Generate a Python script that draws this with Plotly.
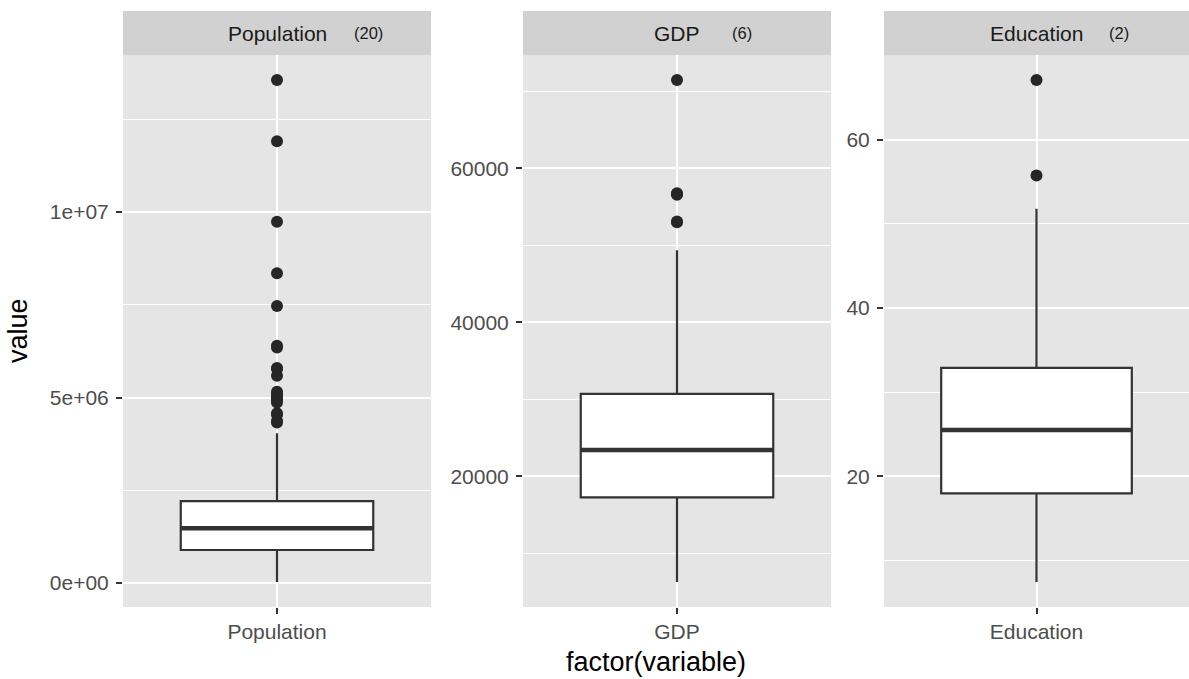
import plotly.graph_objects as go

FIG_W, FIG_H = 1189, 679

# ---- data -------------------------------------------------------------
variables = ["Population", "GDP", "Education"]

# box summaries per variable: whisker ends, quartiles, median
lower_whisker = [0.03e6, 6300, 7.45]
q1_values = [0.89e6, 17270, 17.97]
medians = [1.48e6, 23430, 25.5]
q3_values = [2.21e6, 30720, 32.9]
upper_whisker = [4.04e6, 49370, 51.8]

population_outliers = [13.56e6, 11.91e6, 9.74e6, 8.35e6, 7.47e6, 6.40e6, 6.35e6,
                       5.80e6, 5.77e6, 5.59e6, 5.16e6, 5.10e6, 5.04e6, 4.98e6,
                       4.93e6, 4.87e6, 4.58e6, 4.54e6, 4.37e6, 4.33e6]
gdp_outliers = [71450, 56750, 56650, 56550, 53100, 53000]
education_outliers = [67.1, 55.75]
outliers = [population_outliers, gdp_outliers, education_outliers]

# y tick positions and labels per panel
y_tickvals = [[0, 5e6, 1e7], [20000, 40000, 60000], [20, 40, 60]]
y_ticktext = [["0e+00", "5e+06", "1e+07"], ["20000", "40000", "60000"], ["20", "40", "60"]]
y_minorvals = [[2.5e6, 7.5e6, 12.5e6], [10000, 30000, 50000, 70000], [10, 30, 50, 70]]

# ---- style ------------------------------------------------------------
FONT = "Liberation Sans, Arial, Helvetica, sans-serif"
PANEL_BG = "#E5E5E5"
STRIP_BG = "#D1D1D1"
INK = "#333333"
BOX_WIDTH = 0.75

panel_px = [(123, 431), (523, 831), (884, 1189)]   # left/right edge of each panel
plot_top, plot_bottom = 55, 607
strip_top = 11
count_shift = [91, 65, 82]                          # offset of the "(n)" tag from panel centre


def px_x(v):
    return v / FIG_W


def px_y(v):
    return 1 - v / FIG_H


fig = go.Figure()
layout = dict(
    width=FIG_W, height=FIG_H,
    margin=dict(l=0, r=0, t=0, b=0),
    paper_bgcolor="white",
    plot_bgcolor=PANEL_BG,
    showlegend=False,
    font=dict(family=FONT, color="#4D4D4D"),
)

shapes = []
annotations = []

for i, name in enumerate(variables):
    sfx = "" if i == 0 else str(i + 1)
    xa, ya = "x" + sfx, "y" + sfx

    fig.add_trace(go.Box(
        x=[1], q1=[q1_values[i]], median=[medians[i]], q3=[q3_values[i]],
        lowerfence=[lower_whisker[i]], upperfence=[upper_whisker[i]],
        width=BOX_WIDTH, whiskerwidth=0, boxpoints=False,
        fillcolor="white", line=dict(color=INK, width=2.2),
        xaxis=xa, yaxis=ya, hoverinfo="skip",
    ))
    # heavier median bar
    fig.add_trace(go.Scatter(
        x=[1 - BOX_WIDTH / 2, 1 + BOX_WIDTH / 2], y=[medians[i], medians[i]],
        mode="lines", line=dict(color=INK, width=4.5),
        xaxis=xa, yaxis=ya, hoverinfo="skip",
    ))
    fig.add_trace(go.Scatter(
        x=[1] * len(outliers[i]), y=outliers[i], mode="markers",
        marker=dict(color="#262626", size=12),
        xaxis=xa, yaxis=ya, hoverinfo="skip",
    ))

    lo = min([lower_whisker[i]] + outliers[i])
    hi = max([upper_whisker[i]] + outliers[i])
    pad = 0.05 * (hi - lo)

    x0, x1 = panel_px[i]
    layout["xaxis" + sfx] = dict(
        domain=[px_x(x0), px_x(x1)], anchor=ya, range=[0.4, 1.6],
        tickmode="array", tickvals=[1], ticktext=[name],
        ticks="outside", ticklen=6, tickwidth=2, tickcolor=INK,
        tickfont=dict(size=21, color="#4D4D4D", family=FONT),
        showgrid=True, gridcolor="white", gridwidth=2,
        zeroline=False, showline=False, fixedrange=True,
    )
    layout["yaxis" + sfx] = dict(
        domain=[px_y(plot_bottom), px_y(plot_top)], anchor=xa,
        range=[lo - pad, hi + pad],
        tickmode="array", tickvals=y_tickvals[i], ticktext=y_ticktext[i],
        ticks="outside", ticklen=6, tickwidth=2, tickcolor=INK,
        tickfont=dict(size=21, color="#4D4D4D", family=FONT),
        ticklabelstandoff=3,
        showgrid=True, gridcolor="white", gridwidth=2,
        minor=dict(tickmode="array", tickvals=y_minorvals[i], showgrid=True,
                   gridcolor="white", gridwidth=1, ticks=""),
        zeroline=False, showline=False, fixedrange=True,
    )

    # facet strip
    shapes.append(dict(type="rect", xref="paper", yref="paper",
                       x0=px_x(x0), x1=px_x(x1), y0=px_y(plot_top), y1=px_y(strip_top),
                       fillcolor=STRIP_BG, line=dict(width=0), layer="below"))
    cx = px_x((x0 + x1) / 2)
    cy = px_y((strip_top + plot_top) / 2)
    annotations.append(dict(text=name, x=cx, y=cy, xref="paper", yref="paper",
                            xanchor="center", yanchor="middle", showarrow=False,
                            font=dict(size=21, color="#1A1A1A", family=FONT)))
    annotations.append(dict(text="(%d)" % len(outliers[i]), x=cx, y=cy,
                            xref="paper", yref="paper", xshift=count_shift[i],
                            xanchor="center", yanchor="middle", showarrow=False,
                            font=dict(size=16.5, color="#1A1A1A", family=FONT)))

# axis titles
annotations.append(dict(text="value", x=px_x(18), y=px_y((plot_top + plot_bottom) / 2),
                        xref="paper", yref="paper", textangle=-90,
                        xanchor="center", yanchor="middle", showarrow=False,
                        font=dict(size=27, color="black", family=FONT)))
annotations.append(dict(text="factor(variable)", x=px_x((panel_px[0][0] + panel_px[2][1]) / 2),
                        y=px_y(662), xref="paper", yref="paper",
                        xanchor="center", yanchor="middle", showarrow=False,
                        font=dict(size=27, color="black", family=FONT)))

layout["shapes"] = shapes
layout["annotations"] = annotations
fig.update_layout(**layout)

fig.write_html("out.html")
